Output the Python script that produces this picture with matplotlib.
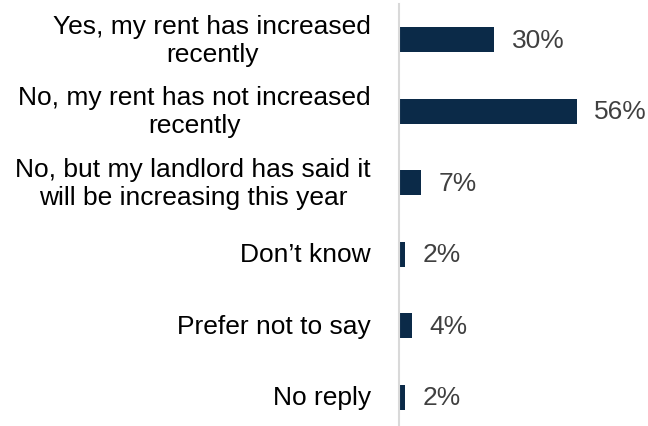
import matplotlib.pyplot as plt
from matplotlib.transforms import blended_transform_factory

categories = ['Yes, my rent has increased\nrecently',
              'No, my rent has not increased\nrecently',
              'No, but my landlord has said it\nwill be increasing this year',
              'Don\u2019t know',
              'Prefer not to say',
              'No reply']
values = [30, 56, 7, 2, 4, 2]

plt.rcParams['font.family'] = ['Liberation Sans', 'DejaVu Sans']

fig = plt.figure(figsize=(6.48, 4.27), dpi=100)
ax = fig.add_axes([399 / 648, 1 - 426 / 427, 249 / 648, 421 / 427])

y = list(range(len(categories)))
ax.barh(y, values, height=0.35, color='#0b2a48')

ax.set_xlim(0, 78.5)
ax.set_ylim(5.39, -0.5)

for sp in ['top', 'right', 'bottom']:
    ax.spines[sp].set_visible(False)
ax.spines['left'].set_color('#d9d9d9')
ax.spines['left'].set_linewidth(1.5)
ax.set_xticks([])
ax.set_yticks([])

trans = blended_transform_factory(fig.transFigure, ax.transData)
for yi, cat in zip(y, categories):
    ax.text(371 / 648, yi, cat, transform=trans, ha='right', va='center',
            multialignment='center', fontsize=19, linespacing=1.22,
            color='#000000')

for yi, v in zip(y, values):
    ax.text(v + 5.6, yi, f'{v}%', ha='left', va='center', fontsize=19,
            color='#404040')

fig.savefig('out.png', dpi=100)
